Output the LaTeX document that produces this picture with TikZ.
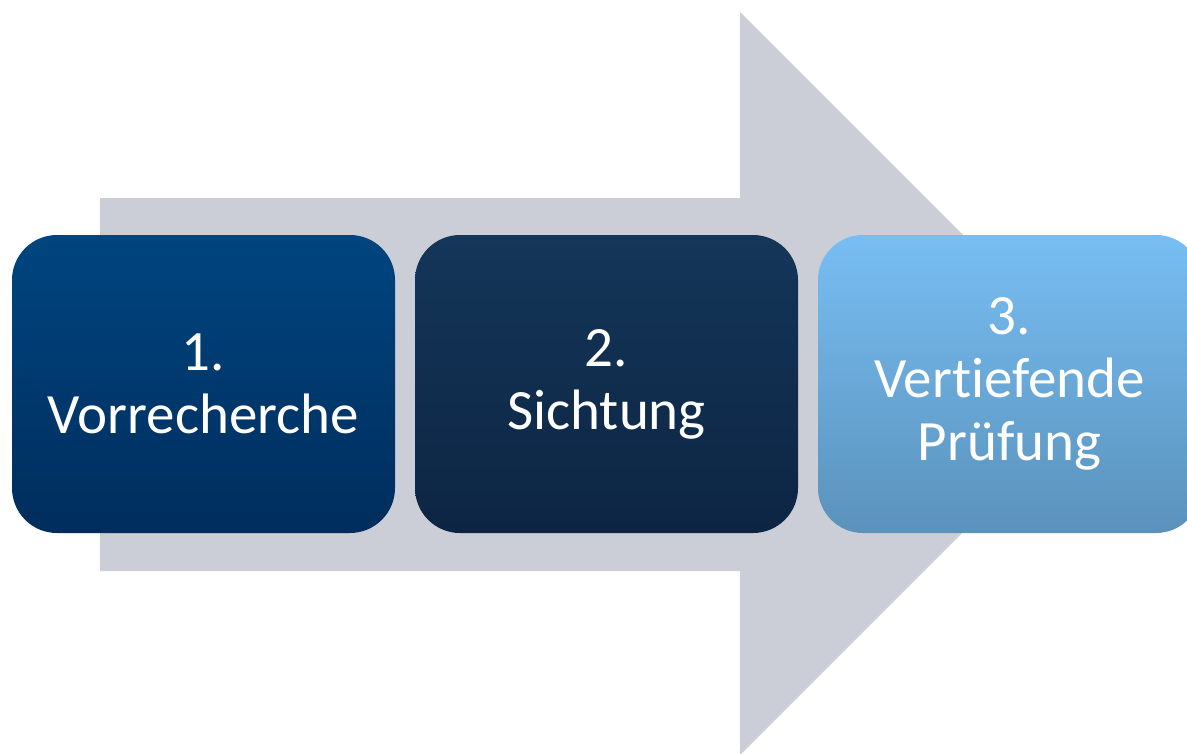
\documentclass[tikz,border=0pt]{standalone}
\usepackage{fontspec}
\setmainfont{Carlito}[Ligatures={NoCommon}]
\definecolor{arrowgray}{HTML}{CBCED6}
\definecolor{aTop}{HTML}{00457F}
\definecolor{aBot}{HTML}{002D5D}
\definecolor{bTop}{HTML}{143659}
\definecolor{bBot}{HTML}{0D2543}
\definecolor{cTop}{HTML}{78BEF3}
\definecolor{cBot}{HTML}{5A92BB}
\tikzset{
  stepbox/.style={rounded corners=45pt, minimum width=383pt, minimum height=298pt,
    inner sep=0pt, align=center, text=white,
    font=\fontsize{57}{63}\selectfont},
}
\begin{document}
\begin{tikzpicture}[x=1pt,y=-1pt]
\useasboundingbox (0,0) rectangle (1187,753);
\clip (0,0) rectangle (1187,753);
\fill[arrowgray] (100,198) -- (740,198) -- (740,12) -- (1111.5,383.5) -- (740,755) -- (740,571) -- (100,571) -- cycle;
\node[stepbox, top color=aTop, bottom color=aBot] (s1) at (203.5,384) {1.\\Vorrecherche};
\node[stepbox, top color=bTop, bottom color=bBot] (s2) at (606.5,384) {2.\\Sichtung};
\node[stepbox, top color=cTop, bottom color=cBot] (s3) at (1009.5,384) {3.\\Vertiefende\\Prüfung};
\end{tikzpicture}
\end{document}
